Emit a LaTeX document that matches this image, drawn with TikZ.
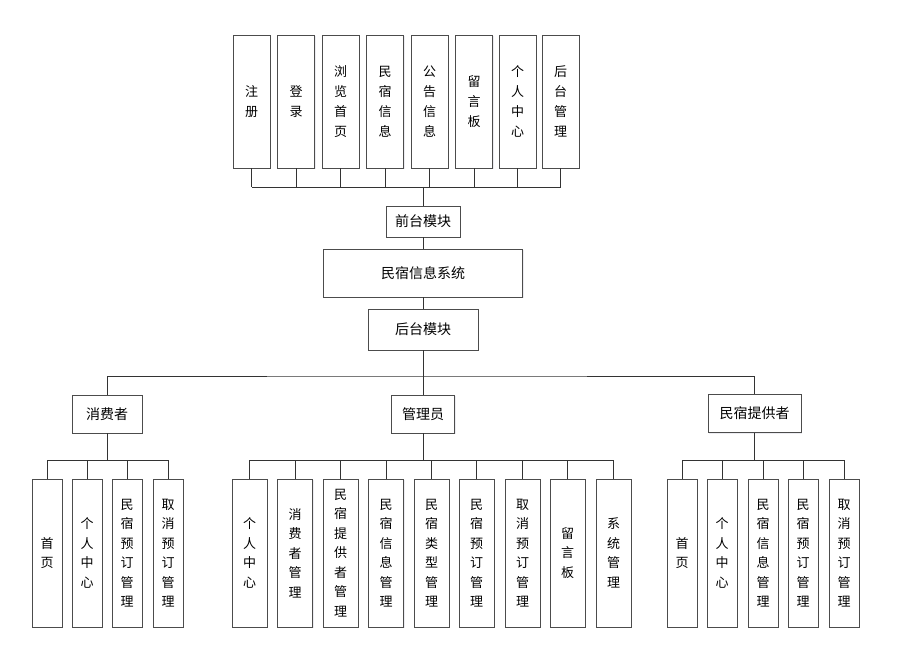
\documentclass[tikz,border=0pt]{standalone}
\usepackage{fontspec}
\setmainfont{Noto Sans CJK SC}
\usetikzlibrary{shadows}

\newcommand*{\topbusy}{187}
\newcommand*{\mainbusy}{376}
\newcommand*{\subbusy}{460}
\newcommand*{\leafy}{553}

\begin{document}
\begin{tikzpicture}
[
	x=1pt, y=-1pt,
	box/.style={draw=black!70, fill=white, inner sep=0pt, font=\fontsize{14}{16}\selectfont,
		drop shadow={shadow xshift=1.2pt, shadow yshift=-1.2pt, fill=blue!25!black!12, opacity=0.6}},
	topbox/.style={box, minimum width=37, minimum height=133, align=center, font=\fontsize{13}{20}\selectfont},
	leaf/.style={box, minimum width=30, minimum height=148, align=center, font=\fontsize{13}{19.5}\selectfont},
	wideleaf/.style={leaf, minimum width=35},
	link/.style={draw=black!80, line width=0.8pt}
]
	\useasboundingbox (0,0) rectangle (900,671);

	% front modules
	\foreach \n/\x/\t in {t1/251.5/注\\册, t2/296/登\\录, t3/340.5/浏\\览\\首\\页, t4/385/民\\宿\\信\\息,
		t5/429.5/公\\告\\信\\息, t6/474/留\\言\\板, t7/517.5/个\\人\\中\\心, t8/560.5/后\\台\\管\\理}
		\node[topbox] (\n) at (\x,101.5) {\t};

	\node[box, minimum width=74, minimum height=31] (front) at (423,221.5) {前台模块};
	\node[box, minimum width=199, minimum height=48] (sys) at (423,273) {民宿信息系统};
	\node[box, minimum width=110, minimum height=41] (back) at (423,329.5) {后台模块};

	% roles
	\node[box, minimum width=70, minimum height=38] (consumer) at (107,414) {消费者};
	\node[box, minimum width=63, minimum height=38] (admin) at (423,414) {管理员};
	\node[box, minimum width=93, minimum height=38] (provider) at (754.5,413.5) {民宿提供者};

	% back modules
	\foreach \n/\x/\t in {c1/47/首\\页, c2/87/个\\人\\中\\心, c3/127/民\\宿\\预\\订\\管\\理, c4/168/取\\消\\预\\订\\管\\理}
		\node[leaf] (\n) at (\x,\leafy) {\t};
	\foreach \n/\x/\t in {a1/249.5/个\\人\\中\\心, a2/295/消\\费\\者\\管\\理, a3/340.5/民\\宿\\提\\供\\者\\管\\理,
		a4/386/民\\宿\\信\\息\\管\\理, a5/431.5/民\\宿\\类\\型\\管\\理, a6/476.5/民\\宿\\预\\订\\管\\理,
		a7/522.5/取\\消\\预\\订\\管\\理, a8/567.5/留\\言\\板, a9/613.5/系\\统\\管\\理}
		\node[wideleaf] (\n) at (\x,\leafy) {\t};
	\foreach \n/\x/\t in {p1/682/首\\页, p2/722/个\\人\\中\\心, p3/763/民\\宿\\信\\息\\管\\理,
		p4/803/民\\宿\\预\\订\\管\\理, p5/844/取\\消\\预\\订\\管\\理}
		\node[leaf] (\n) at (\x,\leafy) {\t};

	% links
	\coordinate (topbus) at (423,\topbusy);
	\coordinate (mainbus) at (423,\mainbusy);
	\foreach \n in {t1,t2,t3,t4,t5,t6,t7,t8}
		\draw[link] (\n.south) -- (\n.south |- topbus);
	\draw[link] (t1.south |- topbus) -- (t8.south |- topbus);
	\draw[link] (topbus) -- (front.north);
	\draw[link] (front.south) -- (sys.north);
	\draw[link] (sys.south) -- (back.north);
	\draw[link] (back.south) -- (admin.north);
	\draw[link] (consumer.north) |- (mainbus) -| (provider.north);

	\foreach \g/\first/\last/\list in {consumer/c1/c4/{c1,c2,c3,c4}, admin/a1/a9/{a1,a2,a3,a4,a5,a6,a7,a8,a9},
		provider/p1/p5/{p1,p2,p3,p4,p5}}
	{
		\coordinate (\g bus) at ([yshift=0pt]\g.south |- 0,\subbusy);
		\draw[link] (\g.south) -- (\g bus);
		\draw[link] (\first.north |- \g bus) -- (\last.north |- \g bus);
		\foreach \n in \list
			\draw[link] (\n.north) -- (\n.north |- \g bus);
	}

\end{tikzpicture}
\end{document}
